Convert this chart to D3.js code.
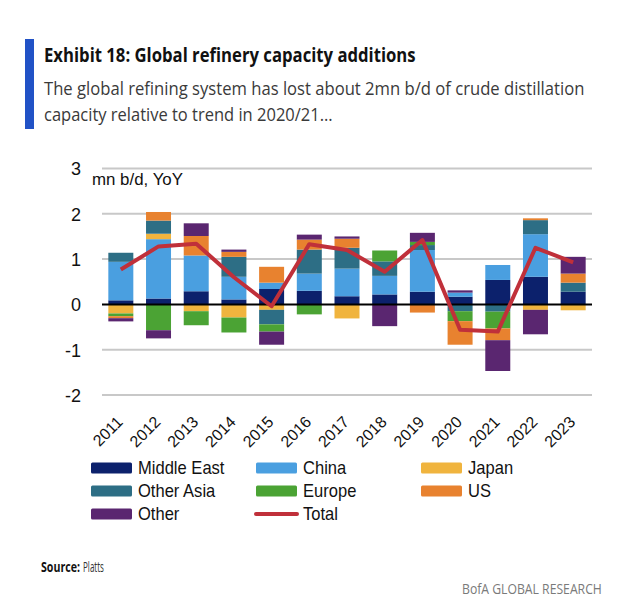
<!DOCTYPE html>
<html>
<head>
<meta charset="utf-8">
<script src="https://cdn.jsdelivr.net/npm/d3@7"></script>
<style>
  html, body { margin: 0; padding: 0; background: #fff; }
  svg { display: block; }
</style>
</head>
<body>
<svg id="chart" width="640" height="601"></svg>
<script>
// ---------------- data ----------------
const categories = ["2011","2012","2013","2014","2015","2016","2017","2018","2019","2020","2021","2022","2023"];
const seriesNames = ["Middle East","China","Japan","Other Asia","Europe","US","Other"];
const middleEast = [0.09, 0.13, 0.29, 0.11, 0.34, 0.30, 0.18, 0.22, 0.28, 0.17, 0.54, 0.61, 0.28];
const china      = [0.85, 1.31, 0.79, 0.50, 0.14, 0.38, 0.61, 0.41, 0.92, 0.09, 0.33, 0.94, 0.00];
const japan      = [-0.20, 0.12, -0.15, -0.29, -0.12, 0.00, -0.31, 0.00, 0.00, 0.00, 0.00, -0.12, -0.13];
const otherAsia  = [0.20, 0.29, 0.00, 0.44, -0.32, 0.53, 0.46, 0.32, 0.11, -0.15, -0.16, 0.31, 0.20];
const europe     = [-0.06, -0.57, -0.31, -0.33, -0.16, -0.22, 0.00, 0.24, 0.07, -0.22, -0.37, 0.00, 0.00];
const us         = [-0.045, 0.19, 0.43, 0.11, 0.35, 0.22, 0.20, 0.00, -0.18, -0.52, -0.26, 0.04, 0.20];
const other      = [-0.07, -0.18, 0.28, 0.05, -0.29, 0.11, 0.05, -0.48, 0.20, 0.05, -0.68, -0.54, 0.37];
const total      = [0.77, 1.28, 1.34, 0.60, -0.04, 1.33, 1.20, 0.72, 1.42, -0.56, -0.60, 1.25, 0.93];
const yTicks = [-2, -1, 0, 1, 2, 3];

const seriesValues = [middleEast, china, japan, otherAsia, europe, us, other];
const colors = ["#0c216c", "#4a9fe0", "#f0b43e", "#2d6e85", "#4ba334", "#e8822f", "#5a2670"];
const totalColor = "#c0303a";

// ---------------- helpers ----------------
// place a text at (x,y) and scale it horizontally so that it spans width w
function hfit(sel, x, y, w) {
  sel.each(function () {
    const L = this.getComputedTextLength();
    d3.select(this).attr("x", 0).attr("y", 0)
      .attr("transform", `translate(${x},${y}) scale(${w / L},1)`);
  });
}
function squeeze(sel, x, y, k) {
  sel.each(function () {
    d3.select(this).attr("x", 0).attr("y", 0)
      .attr("transform", `translate(${x},${y}) scale(${k},1)`);
  });
}

const svg = d3.select("#chart");

// ---------------- header ----------------
svg.append("rect").attr("x", 25).attr("y", 39).attr("width", 9).attr("height", 90).attr("fill", "#2152c6");

svg.append("text")
  .attr("font-family", "'Open Sans', sans-serif").attr("font-weight", 700).attr("font-size", 19.5)
  .attr("fill", "#111").text("Exhibit 18: Global refinery capacity additions")
  .call(hfit, 44, 62, 372);

svg.append("text")
  .attr("font-family", "'Open Sans', sans-serif").attr("font-size", 18.5)
  .attr("fill", "#3a3a3a").text("The global refining system has lost about 2mn b/d of crude distillation")
  .call(hfit, 44, 95, 541);

svg.append("text")
  .attr("font-family", "'Open Sans', sans-serif").attr("font-size", 18.5)
  .attr("fill", "#3a3a3a").text("capacity relative to trend in 2020/21...")
  .call(hfit, 44, 121, 289);

// ---------------- chart ----------------
const x = d3.scaleBand().domain(categories).range([102, 592]).paddingInner(0.337).paddingOuter(0.168);
const y = d3.scaleLinear().domain([-2, 3]).range([395, 168.5]);

const rows = categories.map((c, i) => {
  const r = { cat: c };
  seriesNames.forEach((s, j) => { r[s] = seriesValues[j][i]; });
  return r;
});

const stack = d3.stack().keys(seriesNames).offset(d3.stackOffsetDiverging);
const stacked = stack(rows);

// gridlines
svg.append("g").selectAll("line").data(yTicks.filter(d => d !== 0)).join("line")
  .attr("x1", 102).attr("x2", 592)
  .attr("y1", d => y(d)).attr("y2", d => y(d))
  .attr("stroke", "#c8c8c8").attr("stroke-width", 2);

// y axis labels
const yAxis = svg.append("g").attr("transform", "translate(81,0)")
  .call(d3.axisLeft(y).tickValues(yTicks).tickSize(0).tickPadding(0).tickFormat(d => String(d)));
yAxis.select(".domain").remove();
yAxis.selectAll("text")
  .attr("font-family", "'Liberation Sans', Arial, sans-serif").attr("font-size", 18)
  .attr("fill", "#111").attr("dy", "0.35em");

// unit label
svg.append("text")
  .attr("font-family", "'Liberation Sans', Arial, sans-serif").attr("font-size", 16)
  .attr("fill", "#111").text("mn b/d, YoY")
  .call(hfit, 92, 185, 91);

// bars
svg.append("g").selectAll("g").data(stacked).join("g")
  .attr("fill", (d, i) => colors[i])
  .selectAll("rect").data(d => d).join("rect")
  .attr("x", d => x(d.data.cat))
  .attr("width", x.bandwidth())
  .attr("y", d => y(Math.max(d[0], d[1])))
  .attr("height", d => Math.abs(y(d[0]) - y(d[1])));

// zero line
svg.append("line").attr("x1", 102).attr("x2", 592).attr("y1", y(0)).attr("y2", y(0))
  .attr("stroke", "#000").attr("stroke-width", 2);

// total line
const line = d3.line()
  .x((d, i) => x(categories[i]) + x.bandwidth() / 2)
  .y(d => y(d));
svg.append("path").datum(total).attr("d", line)
  .attr("fill", "none").attr("stroke", totalColor).attr("stroke-width", 4)
  .attr("stroke-linejoin", "round").attr("stroke-linecap", "butt");

// x axis labels
const xAxis = svg.append("g")
  .call(d3.axisBottom(x).tickSize(0).tickPadding(0));
xAxis.select(".domain").remove();
xAxis.selectAll("text")
  .attr("x", null).attr("y", null).attr("dy", null)
  .attr("transform", "translate(3,423) rotate(-45)")
  .style("text-anchor", "end")
  .attr("font-family", "'Liberation Sans', Arial, sans-serif").attr("font-size", 16)
  .attr("fill", "#111");

// ---------------- legend ----------------
const legendItems = [
  { name: "Middle East", type: "rect", color: colors[0], col: 0, row: 0 },
  { name: "China",       type: "rect", color: colors[1], col: 1, row: 0 },
  { name: "Japan",       type: "rect", color: colors[2], col: 2, row: 0 },
  { name: "Other Asia",  type: "rect", color: colors[3], col: 0, row: 1 },
  { name: "Europe",      type: "rect", color: colors[4], col: 1, row: 1 },
  { name: "US",          type: "rect", color: colors[5], col: 2, row: 1 },
  { name: "Other",       type: "rect", color: colors[6], col: 0, row: 2 },
  { name: "Total",       type: "line", color: totalColor, col: 1, row: 2 }
];
const colX = [91, 256, 421];
const rowY = [468, 491, 514];
const lg = svg.append("g");
legendItems.forEach(it => {
  const gx = colX[it.col], gy = rowY[it.row];
  if (it.type === "rect") {
    lg.append("rect").attr("x", gx).attr("y", gy - 5.5).attr("width", 41).attr("height", 11)
      .attr("rx", 1.5).attr("fill", it.color);
  } else {
    lg.append("line").attr("x1", gx).attr("x2", gx + 41).attr("y1", gy).attr("y2", gy)
      .attr("stroke", it.color).attr("stroke-width", 4).attr("stroke-linecap", "round");
  }
  lg.append("text").attr("dy", "0.36em")
    .attr("font-family", "'Liberation Sans', Arial, sans-serif").attr("font-size", 18)
    .attr("fill", "#111").text(it.name)
    .call(squeeze, gx + 47, gy, 0.92);
});

// ---------------- footer ----------------
svg.append("text")
  .attr("font-family", "'Open Sans', sans-serif").attr("font-size", 14).attr("font-weight", 700)
  .attr("fill", "#111").text("Source:")
  .call(hfit, 41, 572, 39);
svg.append("text")
  .attr("font-family", "'Open Sans', sans-serif").attr("font-size", 14)
  .attr("fill", "#333").text("Platts")
  .call(hfit, 83, 572, 21);

svg.append("text")
  .attr("font-family", "'Open Sans', sans-serif").attr("font-size", 14)
  .attr("fill", "#7a7a7a").text("BofA GLOBAL RESEARCH")
  .call(hfit, 462, 594, 140);
</script>
</body>
</html>
